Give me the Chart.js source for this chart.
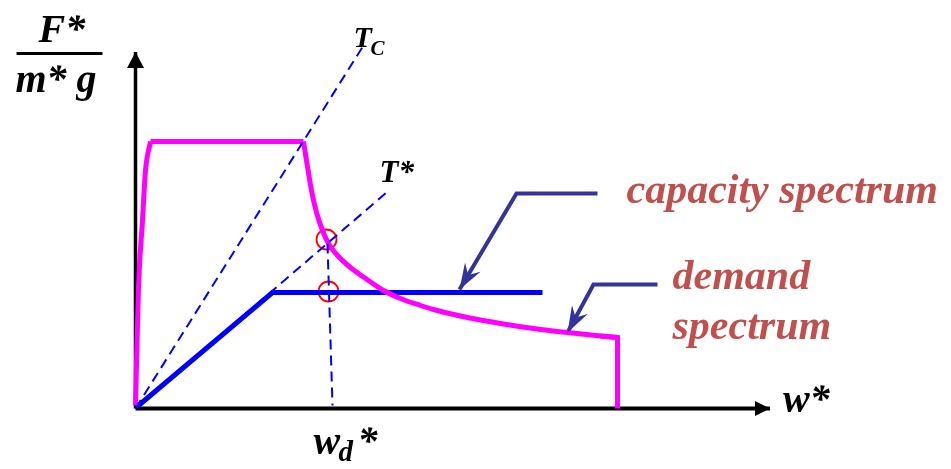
<!DOCTYPE html>
<html>
<head>
<meta charset="utf-8">
<script src="https://cdn.jsdelivr.net/npm/chart.js@4/dist/chart.umd.min.js"></script>
<style>
  html, body { margin: 0; padding: 0; background: #ffffff; }
  canvas { display: block; }
</style>
</head>
<body>
<canvas id="adrs" width="951" height="469"></canvas>
<script>
// Spectral displacement w* and spectral acceleration F*/(m* g), normalised units
const demandW = [0.00, 0.03, 0.07, 0.10, 0.15, 1.68, 1.71, 1.76, 1.81, 1.87, 1.93, 2.03, 2.15, 2.30, 2.48, 2.65, 2.85, 2.98, 3.32, 3.65, 3.98, 4.32, 4.65, 4.82, 4.82];
const demandA = [0.03, 1.21, 1.88, 2.38, 2.67, 2.67, 2.48, 2.18, 1.96, 1.78, 1.65, 1.52, 1.41, 1.30, 1.18, 1.10, 1.03, 0.99, 0.91, 0.85, 0.80, 0.76, 0.725, 0.71, 0.00];
// Index of the start of the plateau, the corner period T_C and the end of the descending branch
const demandPlateauIdx = 4;
const demandCornerIdx = 5;
const demandTailIdx = 23;

// Idealised bilinear capacity curve of the equivalent SDOF system
const capacityW = [0.03, 1.37, 4.07];
const capacityA = [0.03, 1.16, 1.16];

// Radial period lines T_C and T*
const periodTcW = [0.00, 2.28];
const periodTcA = [0.00, 3.63];
const periodTStarW = [0.00, 2.51];
const periodTStarA = [0.00, 2.16];

// Target displacement w_d* projected to the w* axis
const targetW = [1.92, 1.97];
const targetA = [1.65, 0.03];

// Performance points
const markW = [1.91, 1.93];
const markA = [1.69, 1.17];

// Axes
const axisXW = [0.00, 6.345];
const axisXA = [0.00, 0.00];
const axisYW = [0.00, 0.00];
const axisYA = [0.00, 3.565];

// Callout leaders
const capLeaderW = [4.62, 3.81, 3.24];
const capLeaderA = [2.15, 2.15, 1.19];
const demLeaderW = [5.22, 4.58, 4.32];
const demLeaderA = [1.24, 1.24, 0.76];

const pts = (xs, ys) => xs.map((x, i) => ({ x: x, y: ys[i] }));
const demandPts = pts(demandW, demandA);

const SERIF = '"Liberation Serif", "Times New Roman", "DejaVu Serif", serif';
const LABEL_RED = '#C0504D';
const LEADER = '#333399';

function line(data, color, width, dash, smooth) {
  const ds = {
    data: data,
    showLine: true,
    borderColor: color,
    borderWidth: width,
    borderDash: dash || [],
    pointRadius: 0,
    pointHoverRadius: 0,
    fill: false,
    tension: 0,
    borderCapStyle: 'butt',
    borderJoinStyle: 'miter'
  };
  if (smooth) ds.cubicInterpolationMode = 'monotone';
  return ds;
}

// Arrowheads and text labels drawn on top of the datasets
const decorations = {
  id: 'decorations',
  afterDatasetsDraw(chart) {
    const ctx = chart.ctx;
    const sx = chart.scales.x, sy = chart.scales.y;
    const P = (w, a) => [sx.getPixelForValue(w), sy.getPixelForValue(a)];

    function head(from, tip, len, half, notch, color) {
      const dx = tip[0] - from[0], dy = tip[1] - from[1];
      const d = Math.hypot(dx, dy);
      const ux = dx / d, uy = dy / d;
      const bx = tip[0] - ux * len, by = tip[1] - uy * len;
      const nx = -uy, ny = ux;
      ctx.save();
      ctx.fillStyle = color;
      ctx.beginPath();
      ctx.moveTo(tip[0], tip[1]);
      ctx.lineTo(bx + nx * half, by + ny * half);
      ctx.lineTo(tip[0] - ux * (len - notch), tip[1] - uy * (len - notch));
      ctx.lineTo(bx - nx * half, by - ny * half);
      ctx.closePath();
      ctx.fill();
      ctx.restore();
    }

    // axis arrowheads
    head(P(axisYW[0], axisYA[0]), P(axisYW[1], axisYA[1]), 16, 8.5, 0, '#000000');
    head(P(axisXW[0], axisXA[0]), P(axisXW[1], axisXA[1]), 15, 7.5, 0, '#000000');

    // callout arrowheads
    head(P(capLeaderW[1], capLeaderA[1]), P(capLeaderW[2], capLeaderA[2]), 26, 9, 9, LEADER);
    head(P(demLeaderW[1], demLeaderA[1]), P(demLeaderW[2], demLeaderA[2]), 26, 9, 9, LEADER);

    function text(str, x, y, size, color) {
      ctx.save();
      ctx.font = 'italic bold ' + size + 'px ' + SERIF;
      ctx.fillStyle = color;
      ctx.textAlign = 'left';
      ctx.textBaseline = 'alphabetic';
      ctx.fillText(str, x, y);
      ctx.restore();
    }

    const o = P(0, 0);

    // ordinate label F*/(m* g)
    text('F*', o[0] - 97, 42, 40, '#000000');
    ctx.save();
    ctx.strokeStyle = '#000000';
    ctx.lineWidth = 3;
    ctx.beginPath();
    ctx.moveTo(o[0] - 119, 53.5);
    ctx.lineTo(o[0] - 33, 53.5);
    ctx.stroke();
    ctx.restore();
    text('m* g', o[0] - 120, 92, 40, '#000000');

    // period labels
    const tc = P(periodTcW[1], periodTcA[1]);
    text('T', tc[0] - 10, tc[1] + 1, 30, '#000000');
    text('C', tc[0] + 7, tc[1] + 9, 21, '#000000');
    const ts = P(periodTStarW[1], periodTStarA[1]);
    text('T*', ts[0] - 7, ts[1] - 11, 31, '#000000');

    // abscissa labels
    const xe = P(axisXW[1], 0);
    text('w*', xe[0] + 13, o[1] + 3.5, 40, '#000000');
    const wd = P(targetW[1], 0);
    text('w', wd[0] - 19, o[1] + 45.5, 40, '#000000');
    text('d', wd[0] + 6, o[1] + 52.5, 29, '#000000');
    text('*', wd[0] + 25, o[1] + 45.5, 40, '#000000');

    // curve names
    const cl = P(capLeaderW[0], capLeaderA[0]);
    text('capacity spectrum', cl[0] + 29, cl[1] + 9, 42, LABEL_RED);
    const dl = P(demLeaderW[0], demLeaderA[0]);
    text('demand', dl[0] + 15, dl[1] + 4, 42, LABEL_RED);
    text('spectrum', dl[0] + 15, dl[1] + 54, 42, LABEL_RED);
  }
};

new Chart(document.getElementById('adrs'), {
  type: 'scatter',
  data: {
    datasets: [
      line(pts(periodTcW, periodTcA), '#0000FF', 2, [10, 6]),
      line(pts(periodTStarW, periodTStarA), '#0000FF', 2, [10, 6]),
      line(pts(targetW, targetA), '#0000FF', 2, [10, 6]),
      // demand spectrum: rising branch, plateau, descending branch, cut-off
      line(demandPts.slice(0, demandPlateauIdx + 1), '#FF00FF', 5, null, true),
      line(demandPts.slice(demandPlateauIdx, demandCornerIdx + 1), '#FF00FF', 5),
      line(demandPts.slice(demandCornerIdx, demandTailIdx + 1), '#FF00FF', 5, null, true),
      line(demandPts.slice(demandTailIdx - 1), '#FF00FF', 5),
      line(pts(capacityW, capacityA), '#0000FF', 5),
      line(pts(axisXW, axisXA), '#000000', 4),
      line(pts(axisYW, axisYA), '#000000', 3.5),
      line(pts(capLeaderW, capLeaderA), LEADER, 4),
      line(pts(demLeaderW, demLeaderA), LEADER, 4),
      {
        data: pts(markW, markA),
        showLine: false,
        pointStyle: 'circle',
        pointRadius: 10,
        pointHoverRadius: 10,
        pointBackgroundColor: 'rgba(0,0,0,0)',
        pointBorderColor: '#FF0000',
        pointBorderWidth: 1.8
      }
    ]
  },
  options: {
    responsive: false,
    animation: false,
    events: [],
    layout: { padding: 0, autoPadding: false },
    plugins: {
      legend: { display: false },
      tooltip: { enabled: false },
      title: { display: false }
    },
    scales: {
      x: { type: 'linear', display: false, min: -1.355, max: 8.155 },
      y: { type: 'linear', display: false, min: -0.605, max: 4.085 }
    }
  },
  plugins: [decorations]
});
</script>
</body>
</html>
